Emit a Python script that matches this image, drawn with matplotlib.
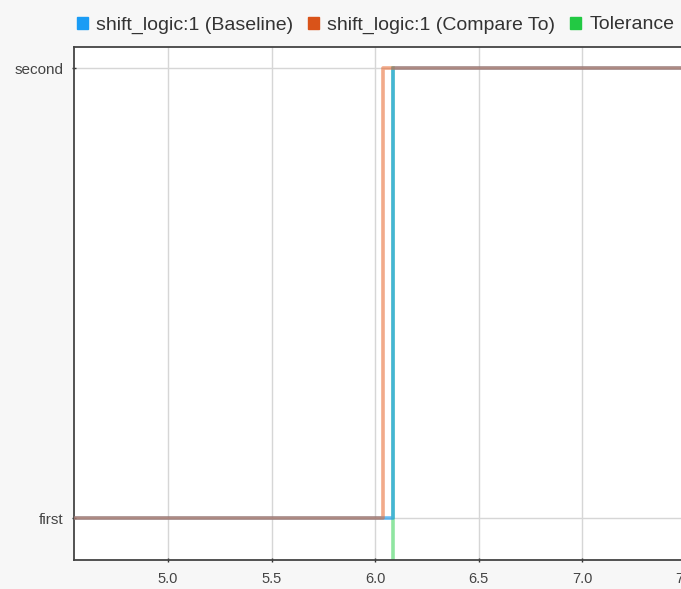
import matplotlib.pyplot as plt
from matplotlib.patches import Patch

plt.rcParams['font.family'] = ['Liberation Sans', 'DejaVu Sans']

# Signal data (enumerated states: 0 = first, 1 = second)
state_labels = ['first', 'second']
baseline_t = [4.4, 6.087, 7.6]
baseline_v = [0, 1, 1]
compare_t = [4.4, 6.039, 7.6]
compare_v = [0, 1, 1]
tolerance_t = [6.087, 6.087]
tolerance_v = [-0.3, 1]
x_ticks = [5.0, 5.5, 6.0, 6.5, 7.0, 7.5]

series_names = ['shift_logic:1 (Baseline)', 'shift_logic:1 (Compare To)', 'Tolerance']
legend_colors = ['#1a9cf5', '#d95319', '#22c943']

fig = plt.figure(figsize=(6.81, 5.89), dpi=100)
fig.patch.set_facecolor('#f7f7f7')
ax = fig.add_axes([74 / 681, 29 / 589, 620 / 681, 513 / 589])
ax.set_facecolor('white')

ax.plot(tolerance_t, tolerance_v, color='#22cc44', alpha=0.5, lw=2.6, zorder=2)
ax.step(baseline_t, baseline_v, where='post', color='#1e9cf0', alpha=0.65, lw=2.6, zorder=3)
ax.step(compare_t, compare_v, where='post', color='#e8642a', alpha=0.55, lw=2.6, zorder=4)

ax.set_xlim(4.546, 7.54)
ax.set_ylim(-0.093, 1.047)
ax.set_xticks(x_ticks)
ax.set_xticklabels([f'{v:.1f}' for v in x_ticks])
ax.set_yticks([0, 1])
ax.set_yticklabels(state_labels)

ax.grid(True, color='#d6d6d6', lw=1.0, zorder=0)
ax.set_axisbelow(True)
for side in ['left', 'bottom', 'top']:
    ax.spines[side].set_color('#444444')
    ax.spines[side].set_linewidth(1.3)
ax.spines['right'].set_visible(False)
ax.tick_params(axis='both', colors='#333333', labelcolor='#444444', labelsize=10.5,
               length=3, width=1, direction='inout')
ax.tick_params(axis='y', labelsize=11)
ax.tick_params(axis='x', pad=7)
ax.tick_params(axis='y', pad=6)

handles = [Patch(facecolor=c, edgecolor=c) for c in legend_colors]
fig.legend(handles, series_names, loc='center left', bbox_to_anchor=(77 / 681, 1 - 25 / 589),
           ncol=3, frameon=False, fontsize=14, handlelength=0.57, handleheight=0.57,
           handletextpad=0.41, columnspacing=0.77, labelcolor='#333333', borderaxespad=0,
           borderpad=0)

fig.savefig('out.png', dpi=100, facecolor=fig.get_facecolor())
